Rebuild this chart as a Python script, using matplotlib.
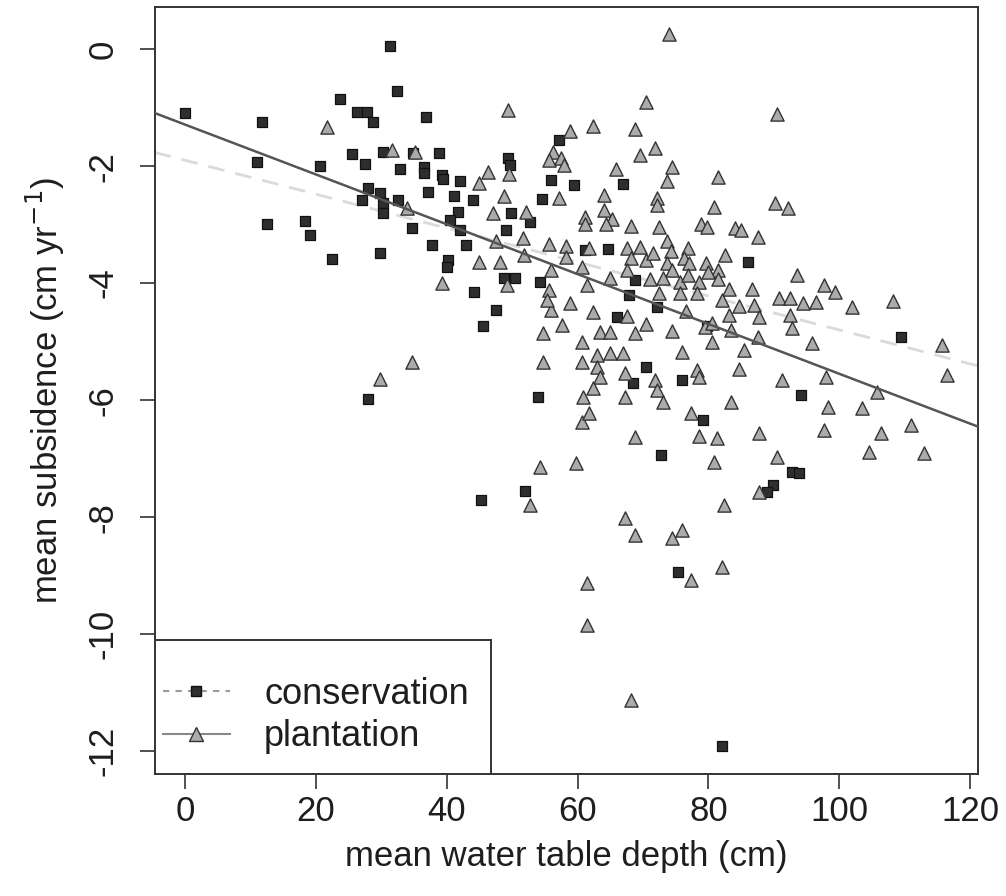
import matplotlib
matplotlib.use("Agg")
import matplotlib.pyplot as plt
from matplotlib.lines import Line2D
from matplotlib.patches import Rectangle
import numpy as np

plt.rcParams['font.family'] = ['Liberation Sans', 'DejaVu Sans']

# ---- data: conservation (squares) ----
cons_x = [0.0, 11.8, 11.0, 12.5, 18.3, 19.1, 22.4, 20.6, 23.7, 26.3, 27.8, 28.7, 31.3, 32.4,
          36.8, 25.5, 27.5, 32.8, 30.2, 34.8, 38.8, 36.6, 36.6, 39.2, 37.1, 27.9, 29.8, 27.0,
          30.2, 30.2, 32.5, 34.7, 37.7, 29.8, 40.2, 40.0, 47.6, 45.6, 27.9, 53.9, 45.3, 51.9,
          57.1, 49.3, 49.6, 56.0, 59.5, 66.9, 54.5, 39.4, 42.1, 41.1, 44.0, 41.7, 42.0, 42.9,
          40.5, 49.8, 52.8, 49.0, 61.1, 64.6, 48.7, 50.4, 44.2, 54.2, 68.7, 67.9, 72.2, 66.0,
          86.1, 79.8, 70.5, 68.4, 75.9, 94.2, 79.1, 109.5, 72.8, 92.7, 93.9, 89.8, 88.9, 75.3,
          82.1]
cons_y = [-1.09, -1.25, -1.93, -2.99, -2.94, -3.18, -3.59, -2.00, -0.85, -1.08, -1.08, -1.25,
          0.05, -0.72, -1.16, -1.79, -1.97, -2.05, -1.76, -1.78, -1.78, -2.02, -2.12, -2.15,
          -2.44, -2.38, -2.46, -2.58, -2.63, -2.80, -2.58, -3.06, -3.35, -3.49, -3.61, -3.73,
          -4.46, -4.74, -5.98, -5.95, -7.71, -7.56, -1.56, -1.86, -1.98, -2.24, -2.32, -2.31,
          -2.56, -2.22, -2.26, -2.51, -2.58, -2.79, -3.09, -3.35, -2.92, -2.80, -2.96, -3.09,
          -3.44, -3.42, -3.91, -3.91, -4.15, -3.98, -3.95, -4.20, -4.41, -4.58, -3.64, -4.74,
          -5.44, -5.71, -5.66, -5.91, -6.34, -4.92, -6.94, -7.23, -7.25, -7.45, -7.57, -8.94,
          -11.91]

# ---- data: plantation (triangles) ----
plant_x = [74.0, 70.5, 49.3, 90.4, 58.9, 62.3, 68.7, 71.8, 69.5, 56.3, 57.4, 57.9, 55.7, 65.8,
           74.4, 73.6, 81.5, 46.3, 49.5, 45.0, 48.7, 64.0, 72.1, 72.1, 21.7, 31.6, 35.1, 57.1,
           80.8, 90.2, 92.1, 47.0, 52.1, 61.2, 61.2, 64.0, 65.2, 64.4, 68.1, 72.5, 78.8, 79.8,
           84.0, 85.0, 87.5, 47.6, 51.6, 51.8, 55.7, 58.2, 58.2, 61.8, 67.6, 68.1, 70.5, 73.6,
           74.2, 76.8, 76.2, 82.6, 34.0, 45.0, 48.1, 60.6, 56.0, 73.6, 74.4, 77.1, 79.7, 81.4,
           71.0, 73.1, 75.7, 76.8, 78.6, 72.5, 75.7, 78.2, 80.0, 81.5, 83.1, 82.0, 86.6, 93.6,
           97.6, 99.4, 90.8, 92.5, 94.5, 96.5, 102.0, 108.2, 84.7, 86.9, 87.8, 83.2, 92.4, 76.6,
           67.5, 70.5, 68.7, 74.4, 79.4, 80.6, 80.6, 83.5, 87.6, 92.8, 95.9, 115.7, 116.5, 64.9,
           66.9, 76.0, 85.5, 84.7, 78.3, 78.6, 91.3, 98.0, 67.2, 71.8, 72.2, 67.2, 73.0, 83.5,
           98.2, 103.4, 105.8, 111.0, 77.3, 68.7, 78.5, 81.3, 87.8, 97.7, 106.4, 104.6, 113.0,
           56.0, 58.8, 62.3, 54.7, 57.6, 60.6, 63.4, 64.9, 54.7, 60.6, 62.9, 62.9, 63.4, 60.8,
           62.3, 60.6, 61.8, 54.2, 59.8, 80.9, 90.4, 87.8, 52.7, 82.4, 67.2, 68.7, 74.5, 75.9,
           82.1, 77.4, 61.5, 61.5, 68.2, 34.7, 29.8, 69.6, 71.5, 55.6, 55.4, 61.5, 64.9, 67.5,
           39.2, 49.2]
plant_y = [0.26, -0.91, -1.04, -1.11, -1.40, -1.32, -1.37, -1.69, -1.81, -1.76, -1.86, -1.98,
           -1.90, -2.05, -2.02, -2.26, -2.19, -2.10, -2.14, -2.29, -2.51, -2.50, -2.55, -2.67,
           -1.33, -1.73, -1.76, -2.55, -2.70, -2.63, -2.72, -2.80, -2.79, -2.87, -2.99, -2.75,
           -2.91, -2.99, -3.03, -3.04, -2.99, -3.04, -3.06, -3.09, -3.21, -3.28, -3.23, -3.52,
           -3.33, -3.37, -3.56, -3.40, -3.40, -3.57, -3.61, -3.28, -3.45, -3.40, -3.57, -3.52,
           -2.72, -3.64, -3.64, -3.73, -3.78, -3.66, -3.78, -3.66, -3.66, -3.78, -3.93, -3.91,
           -3.98, -3.86, -3.98, -4.17, -4.17, -4.17, -3.81, -3.93, -4.10, -4.29, -4.10, -3.86,
           -4.03, -4.15, -4.26, -4.26, -4.34, -4.32, -4.41, -4.31, -4.39, -4.38, -4.58, -4.55,
           -4.55, -4.48, -4.56, -4.70, -4.85, -4.82, -4.75, -4.68, -5.01, -4.80, -4.92, -4.77,
           -5.03, -5.06, -5.57, -5.20, -5.20, -5.18, -5.15, -5.47, -5.49, -5.61, -5.66, -5.61,
           -5.54, -5.66, -5.83, -5.95, -6.03, -6.03, -6.12, -6.14, -5.86, -6.43, -6.22, -6.63,
           -6.62, -6.65, -6.56, -6.51, -6.56, -6.89, -6.91, -4.46, -4.34, -4.50, -4.85, -4.72,
           -5.01, -4.84, -4.84, -5.35, -5.35, -5.23, -5.44, -5.61, -5.95, -5.79, -6.38, -6.22,
           -7.15, -7.08, -7.06, -6.97, -7.57, -7.79, -7.79, -8.02, -8.31, -8.36, -8.22, -8.85,
           -9.08, -9.13, -9.85, -11.13, -5.35, -5.64, -3.38, -3.49, -4.12, -4.29, -4.03, -3.91,
           -3.78, -4.00, -4.03]

# regression lines (intercept, slope)
cons_fit = [-1.90, -0.029]
plant_fit = [-1.29, -0.0426]

x_ticks = [0, 20, 40, 60, 80, 100, 120]
y_ticks = [0, -2, -4, -6, -8, -10, -12]
series_names = ['conservation', 'plantation']

TXT = '#1e1e1e'
FS = 25

fig = plt.figure(figsize=(10.06, 8.96), dpi=100)
ax = fig.add_axes([0.1536, 0.1362, 0.8186, 0.856])
xlim = (-4.66, 121.2)
ax.set_xlim(*xlim)
ax.set_ylim(-12.39, 0.72)

xx = np.array(xlim)
ax.plot(xx, cons_fit[0] + cons_fit[1] * xx, color='#dadada', lw=2.0,
        dashes=(6, 4), zorder=1)

ax.scatter(cons_x, cons_y, marker='s', s=7.5**2, facecolor='#2e2e2e',
           edgecolor='#111111', linewidths=0.9, zorder=2)
ax.scatter(plant_x, plant_y, marker='^', s=9.5**2, facecolor='#ababab',
           edgecolor='#333333', linewidths=1.0, zorder=3)

ax.plot(xx, plant_fit[0] + plant_fit[1] * xx, color='#555555', lw=1.8, zorder=4)

ax.set_xticks(x_ticks)
ax.set_yticks(y_ticks)
ax.set_xticklabels([str(v) for v in x_ticks])
ax.set_yticklabels([str(v) for v in y_ticks], rotation=90, va='center')
ax.tick_params(axis='both', direction='out', length=11, width=1.2,
               colors='#333333', labelcolor=TXT, labelsize=FS)
ax.tick_params(axis='x', pad=4)
ax.tick_params(axis='y', pad=14)
for sp in ax.spines.values():
    sp.set_color('#333333')
    sp.set_linewidth(1.4)

ax.set_xlabel('mean water table depth (cm)', fontsize=FS, color=TXT, labelpad=9)
ax.set_ylabel('mean subsidence (cm yr$^{-1}$)', fontsize=FS, color=TXT, labelpad=14)

# legend frame (R-style box in the lower-left corner)
frame = Rectangle((0, 0), 0.4086, 0.1747, transform=ax.transAxes, facecolor='white',
                  edgecolor='#333333', linewidth=1.4, zorder=5)
ax.add_patch(frame)

handles = [
    Line2D([], [], color='#9a9a9a', lw=1.5, dashes=(3, 3), marker='s', markersize=7.5,
           markerfacecolor='#2e2e2e', markeredgecolor='#111111'),
    Line2D([], [], color='#888888', lw=1.5, marker='^', markersize=9.5,
           markerfacecolor='#ababab', markeredgecolor='#333333'),
]
leg = ax.legend(handles, series_names, loc='upper left',
                bbox_to_anchor=(0.0103, 0.127), borderaxespad=0, borderpad=0,
                fontsize=26, frameon=False,
                handlelength=1.85, handletextpad=0.95, labelspacing=0.21)
leg.set_zorder(6)
for t in leg.get_texts():
    t.set_color(TXT)

fig.savefig('out.png', dpi=100)
